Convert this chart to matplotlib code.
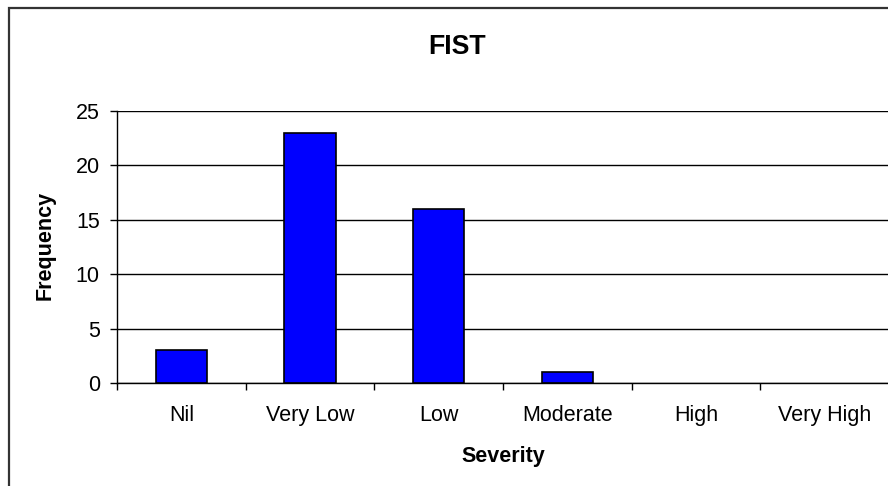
"""
FIST severity histogram, excel-style: blue bars, black outlines, grey frame round the chart.
"""

import matplotlib
matplotlib.use("Agg")
import matplotlib.pyplot as plt
from matplotlib.patches import Rectangle

plt.rcParams["font.family"] = ["Liberation Sans", "DejaVu Sans"]

categories = ["Nil", "Very Low", "Low", "Moderate", "High", "Very High"]
frequency = [3, 23, 16, 1, 0, 0]
y_ticks = [0, 5, 10, 15, 20, 25]

W, H = 888, 486
fig = plt.figure(figsize=(W / 100, H / 100), dpi=100)
ax = fig.add_axes([117 / W, 1 - 383 / H, 772 / W, 272 / H])

x = range(len(categories))
# excel draws nothing for an empty bar, so no outline either
edge_w = [1.2 if v else 0 for v in frequency]
ax.bar(x, frequency, width=0.4, color="#0000ff", edgecolor="black", linewidth=edge_w, zorder=3)

ax.set_xlim(-0.5, len(categories) - 0.5)
ax.set_ylim(0, 25)
ax.set_yticks(y_ticks)
ax.yaxis.grid(True, color="black", linewidth=1.0, zorder=0)
ax.tick_params(axis="y", direction="out", length=7.5 * 0.72, width=1.0,
               labelsize=15.5, pad=7)

# category separators as major ticks, names as unticked minor labels
ax.set_xticks([i - 0.5 for i in range(len(categories) + 1)])
ax.set_xticklabels([])
ax.set_xticks(list(x), minor=True)
ax.set_xticklabels(categories, minor=True)
ax.tick_params(axis="x", which="major", direction="out", length=7 * 0.72, width=1.0)
ax.tick_params(axis="x", which="minor", length=0, labelsize=15.5, pad=16)

for side in ("top", "right"):
    ax.spines[side].set_visible(False)
for side in ("left", "bottom"):
    ax.spines[side].set_linewidth(1.0)
    ax.spines[side].set_zorder(4)

fig.text(457 / W, 1 - 54 / H, "FIST", ha="center", va="baseline",
         fontsize=19.3, fontweight="bold")
fig.text(503 / W, 1 - 462 / H, "Severity", ha="center", va="baseline",
         fontsize=15.5, fontweight="bold")
fig.text(45 / W, 1 - 245 / H, "Frequency", ha="center", va="center",
         rotation=90, fontsize=15.5, fontweight="bold")

# chart frame, cropped on the right and bottom like the screenshot
fig.add_artist(Rectangle((9 / W, -0.1), 1.2, 1.1 - 8 / H, transform=fig.transFigure,
                         fill=False, edgecolor="#333333", linewidth=1.6))

fig.savefig("out.png", dpi=100)
plt.close(fig)
